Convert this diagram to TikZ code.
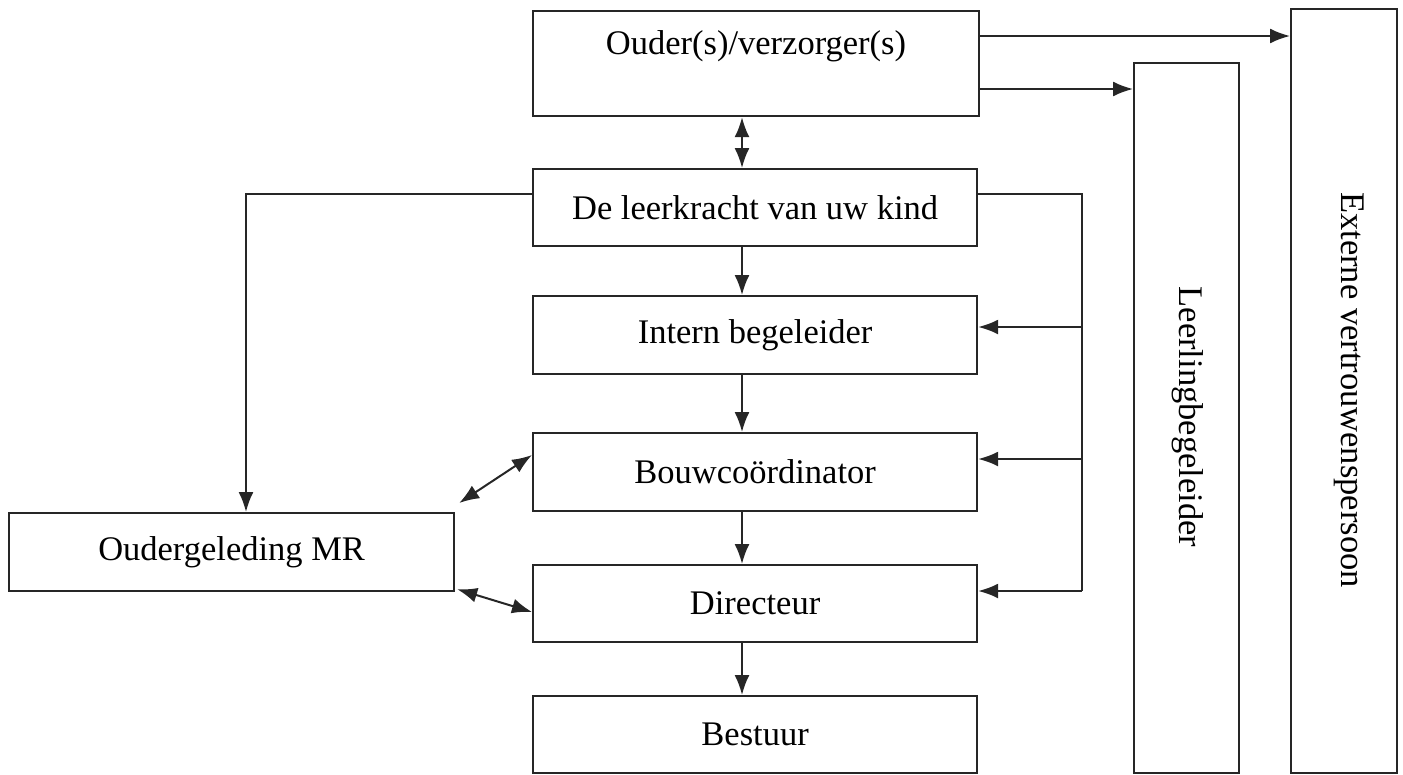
\documentclass[tikz,border=0pt]{standalone}
\usepackage{fontspec}
\setmainfont{Liberation Serif}
\usetikzlibrary{arrows.meta,calc}
\begin{document}
\begin{tikzpicture}[x=1pt,y=-1pt,
  box/.style={draw=black!85,line width=2.2pt,anchor=north west,inner sep=0pt,
    font=\fontsize{34.5}{40}\selectfont,align=center},
  tip/.tip={Latex[length=20pt,width=15pt]},
  arr/.style={line width=2pt,draw=black!85,-tip},
  darr/.style={line width=2pt,draw=black!85,tip-tip},
  ln/.style={line width=2pt,draw=black!85}]
\useasboundingbox (0,0) rectangle (1403,774);
\node[box,minimum width=446pt,minimum height=105pt] (ouder) at (532,10) {};
\node[font=\fontsize{34.5}{40}\selectfont] (ouderT) at (756,46) {Ouder(s)/verzorger(s)};
\node[box,minimum width=444pt,minimum height=77pt] (leer) at (532,168) {De leerkracht van uw kind};
\node[box,minimum width=444pt,minimum height=78pt] (intern) at (532,295) {Intern begeleider};
\node[box,minimum width=444pt,minimum height=78pt] (bouw) at (532,432) {Bouwcoördinator};
\node[box,minimum width=444pt,minimum height=77pt] (dir) at (532,564) {Directeur};
\node[box,minimum width=444pt,minimum height=77pt] (best) at (532,695) {Bestuur};
\node[box,minimum width=445pt,minimum height=78pt] (mr) at (8,512) {Oudergeleding MR};
\node[box,minimum width=105pt,minimum height=710pt] (llb) at (1133,62) {};
\node[font=\fontsize{34.5}{40}\selectfont,rotate=-90] (llbT) at (1188,417) {Leerlingbegeleider};
\node[box,minimum width=106pt,minimum height=764pt] (evp) at (1290,8) {};
\node[font=\fontsize{34.5}{40}\selectfont,rotate=-90] (evpT) at (1349,390) {Externe vertrouwenspersoon};

\coordinate (bl) at (246,194);
\coordinate (br) at (1082,194);
\coordinate (brb) at (1082,591);

% from parents to external
\draw[arr] (ouder.east |- 0,36) -- (evp.west |- 0,36);
\draw[arr] (ouder.east |- 0,89) -- (llb.west |- 0,89);
\draw[darr] (742,0 |- ouder.south) -- (742,0 |- leer.north);

% vertical chain
\draw[arr] (742,0 |- leer.south) -- (742,0 |- intern.north);
\draw[arr] (742,0 |- intern.south) -- (742,0 |- bouw.north);
\draw[arr] (742,0 |- bouw.south) -- (742,0 |- dir.north);
\draw[arr] (742,0 |- dir.south) -- (742,0 |- best.north);

% left bus
\draw[arr] (leer.west |- bl) -- (bl) -- (bl |- mr.north);
% right bus
\draw[ln] (leer.east |- br) -- (br) -- (brb);
\draw[arr] (brb) -- (dir.east |- brb);
\draw[arr] (br |- 0,327) -- (intern.east |- 0,327);
\draw[arr] (br |- 0,459) -- (bouw.east |- 0,459);

% diagonals
\draw[darr] ($(mr.north east)+(4,-9)$) -- (bouw.west |- 0,455);
\draw[darr] ($(mr.south east)+(2,-3)$) -- (dir.west |- 0,612);
\end{tikzpicture}
\end{document}
